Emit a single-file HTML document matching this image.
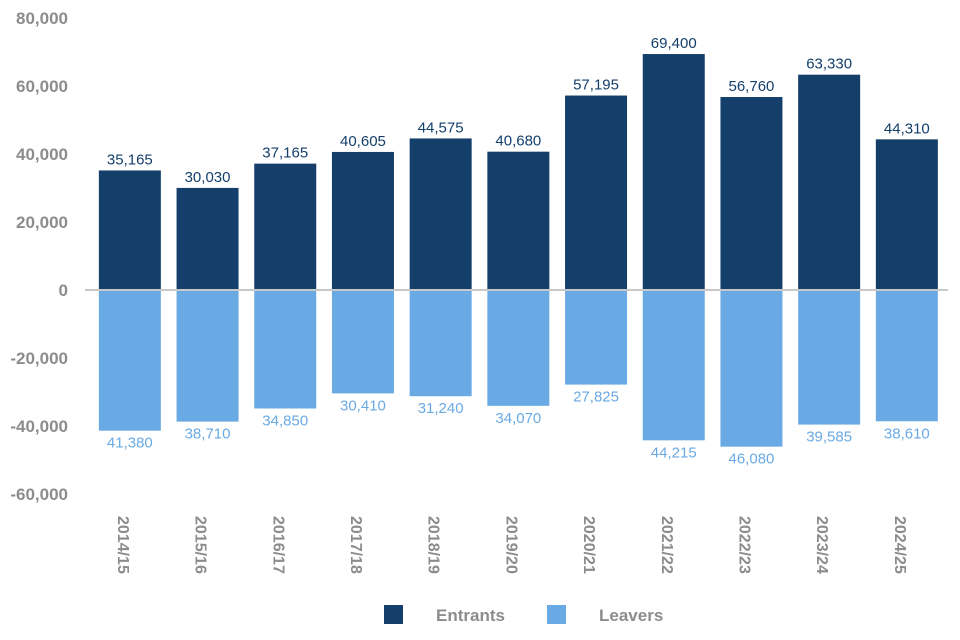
<!DOCTYPE html>
<html><head><meta charset="utf-8"><style>
body{margin:0;background:#fff;font-family:"Liberation Sans",Arial,sans-serif;}
svg{display:block}
</style></head><body>
<svg id="chart" width="960" height="640"></svg>
<script>
const categories=["2014/15","2015/16","2016/17","2017/18","2018/19","2019/20","2020/21","2021/22","2022/23","2023/24","2024/25"];
const entrants=[35165,30030,37165,40605,44575,40680,57195,69400,56760,63330,44310];
const leavers=[41380,38710,34850,30410,31240,34070,27825,44215,46080,39585,38610];
const yTicks=[80000,60000,40000,20000,0,-20000,-40000,-60000];
const NS="http://www.w3.org/2000/svg";
const svg=document.getElementById('chart');
const y0=290, pxPer=68/20000;
const y=v=>y0-v*pxPer;
const x0=91, step=77.7, bw=62;
const xc=i=>x0+step*i+step/2;
function mk(t,a,txt){const e=document.createElementNS(NS,t);for(const k in a)e.setAttribute(k,a[k]);if(txt!=null)e.textContent=txt;svg.appendChild(e);return e;}
const fmt=v=>Math.abs(v).toLocaleString('en-US');
yTicks.forEach(t=>{
 const e=mk('text',{x:68,y:y(t)+6,'text-anchor':'end','font-size':17,'font-weight':'bold',fill:'#8c8c8c'},(t<0?'-':'')+fmt(t));
 
 
});
categories.forEach((c,i)=>{
 const cx=xc(i);
 const b1=mk('rect',{x:cx-bw/2,y:y(entrants[i]),width:bw,height:y(0)-y(entrants[i]),fill:'#143f6b'});
 
 
 const b2=mk('rect',{x:cx-bw/2,y:y(0),width:bw,height:y(-leavers[i])-y(0),fill:'#6aaae4'});
 
 
 const l1=mk('text',{x:cx,y:y(entrants[i])-6,'text-anchor':'middle','font-size':15,fill:'#143f6b'},fmt(entrants[i]));
 
 
 const l2=mk('text',{x:cx,y:y(-leavers[i])+17,'text-anchor':'middle','font-size':15,fill:'#6aaae4'},fmt(leavers[i]));
 
 
 const xl=mk('text',{x:0,y:0,'text-anchor':'start','font-size':16,'font-weight':'bold',fill:'#8c8c8c',transform:`translate(${cx-12},516) rotate(90)`},c);
 
 
});
const zl=mk('line',{x1:85,x2:948,y1:y0,y2:y0,stroke:'#c8c8c8','stroke-width':2});


const lg=[["Entrants","#143f6b",384,436],["Leavers","#6aaae4",547,599]];
lg.forEach(l=>{
 const r=mk('rect',{x:l[2],y:605,width:19,height:19,fill:l[1]});
 
 
 const t=mk('text',{x:l[3],y:621,'font-size':17,'font-weight':'bold',fill:'#8c8c8c'},l[0]);
 
 
});
</script>
</body></html>
